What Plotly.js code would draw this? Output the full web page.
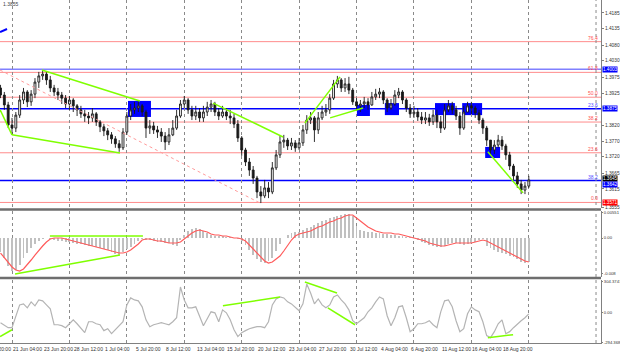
<!DOCTYPE html>
<html><head><meta charset="utf-8">
<script src="https://cdn.plot.ly/plotly-3.0.1.min.js"></script>
<style>html,body{margin:0;padding:0;background:#fff}#chart{width:620px;height:357px}</style>
</head><body><div id="chart"></div>
<script>
// ---------- DATA (8-hour bars, index 0 = left edge) ----------
const firstOpen = 1.3942;
const closes = [1.3919,1.3887,1.3822,1.3812,1.3854,1.3903,1.3929,1.3897,1.3922,1.3961,
 1.3981,1.3987,1.3968,1.3942,1.3929,1.3919,1.3909,1.3890,1.3903,1.3884,
 1.3871,1.3858,1.3851,1.3845,1.3858,1.3832,1.3816,1.3803,1.3790,1.3777,
 1.3761,1.3748,1.3799,1.3851,1.3871,1.3877,1.3884,1.3864,1.3812,1.3819,
 1.3806,1.3799,1.3786,1.3767,1.3790,1.3812,1.3851,1.3890,1.3903,1.3871,
 1.3851,1.3864,1.3845,1.3864,1.3880,1.3890,1.3864,1.3851,1.3864,1.3851,
 1.3845,1.3825,1.3780,1.3741,1.3702,1.3676,1.3650,1.3605,1.3592,1.3618,
 1.3605,1.3683,1.3725,1.3767,1.3773,1.3754,1.3764,1.3748,1.3764,1.3806,
 1.3838,1.3845,1.3806,1.3845,1.3864,1.3871,1.3909,1.3955,1.3968,1.3942,
 1.3955,1.3935,1.3897,1.3884,1.3890,1.3897,1.3887,1.3913,1.3922,1.3929,
 1.3903,1.3877,1.3890,1.3919,1.3929,1.3903,1.3877,1.3858,1.3864,1.3848,
 1.3838,1.3845,1.3832,1.3854,1.3832,1.3812,1.3871,1.3884,1.3871,1.3851,
 1.3812,1.3864,1.3884,1.3877,1.3861,1.3838,1.3812,1.3773,1.3741,1.3757,
 1.3773,1.3754,1.3725,1.3689,1.3657,1.3631,1.3611,1.3624,1.3644];
const highs = [1.3952,1.3929,1.3897,1.3845,1.3864,1.3919,1.3942,1.3935,1.3935,1.3974,
 1.3994,1.4000,1.3994,1.3981,1.3952,1.3942,1.3929,1.3919,1.3916,1.3909,
 1.3890,1.3884,1.3871,1.3864,1.3877,1.3864,1.3838,1.3825,1.3812,1.3799,
 1.3786,1.3773,1.3812,1.3864,1.3890,1.3897,1.3903,1.3890,1.3871,1.3838,
 1.3832,1.3819,1.3812,1.3799,1.3812,1.3838,1.3871,1.3903,1.3916,1.3909,
 1.3884,1.3884,1.3877,1.3884,1.3897,1.3903,1.3897,1.3877,1.3884,1.3877,
 1.3871,1.3858,1.3838,1.3786,1.3748,1.3715,1.3689,1.3657,1.3624,1.3644,
 1.3637,1.3702,1.3741,1.3786,1.3790,1.3780,1.3780,1.3773,1.3780,1.3822,
 1.3854,1.3864,1.3851,1.3864,1.3884,1.3890,1.3922,1.3968,1.3981,1.3974,
 1.3974,1.3978,1.3942,1.3909,1.3903,1.3913,1.3909,1.3929,1.3939,1.3942,
 1.3935,1.3909,1.3906,1.3935,1.3942,1.3935,1.3909,1.3890,1.3884,1.3877,
 1.3864,1.3864,1.3858,1.3871,1.3871,1.3851,1.3890,1.3903,1.3897,1.3884,
 1.3864,1.3884,1.3897,1.3897,1.3884,1.3871,1.3845,1.3819,1.3773,1.3773,
 1.3790,1.3786,1.3761,1.3735,1.3696,1.3670,1.3644,1.3637,1.3657];
const lows = [1.3909,1.3871,1.3812,1.3790,1.3799,1.3845,1.3890,1.3880,1.3884,1.3909,
 1.3942,1.3968,1.3952,1.3929,1.3916,1.3903,1.3890,1.3877,1.3871,1.3864,
 1.3851,1.3845,1.3832,1.3825,1.3832,1.3819,1.3799,1.3786,1.3773,1.3761,
 1.3748,1.3735,1.3741,1.3790,1.3838,1.3858,1.3864,1.3851,1.3780,1.3793,
 1.3793,1.3780,1.3767,1.3741,1.3757,1.3786,1.3806,1.3845,1.3877,1.3858,
 1.3838,1.3838,1.3832,1.3832,1.3851,1.3864,1.3851,1.3838,1.3845,1.3838,
 1.3825,1.3812,1.3767,1.3722,1.3689,1.3657,1.3631,1.3585,1.3569,1.3585,
 1.3585,1.3598,1.3676,1.3715,1.3748,1.3741,1.3741,1.3735,1.3741,1.3754,
 1.3793,1.3825,1.3767,1.3793,1.3838,1.3851,1.3858,1.3903,1.3942,1.3929,
 1.3929,1.3922,1.3887,1.3871,1.3864,1.3877,1.3871,1.3884,1.3903,1.3909,
 1.3890,1.3864,1.3871,1.3884,1.3909,1.3890,1.3864,1.3845,1.3845,1.3835,
 1.3825,1.3825,1.3819,1.3822,1.3812,1.3796,1.3806,1.3864,1.3858,1.3838,
 1.3790,1.3806,1.3864,1.3858,1.3845,1.3825,1.3793,1.3754,1.3728,1.3728,
 1.3748,1.3741,1.3709,1.3676,1.3644,1.3618,1.3598,1.3598,1.3618];

const macdHist = [-0.00308,-0.00440,-0.00616,-0.00726,-0.00704,-0.00594,-0.00440,-0.00330,-0.00220,-0.00132,
 -0.00066,-0.00022,0,-0.00022,-0.00044,-0.00066,-0.00066,-0.00088,-0.00088,-0.00110,
 -0.00132,-0.00132,-0.00154,-0.00176,-0.00176,-0.00198,-0.00220,-0.00242,-0.00264,-0.00308,
 -0.00352,-0.00374,-0.00308,-0.00242,-0.00198,-0.00132,-0.00066,-0.00022,-0.00044,-0.00044,
 -0.00066,-0.00088,-0.00088,-0.00110,-0.00110,-0.00154,-0.00176,-0.00044,0.00066,0.00154,
 0.00198,0.00220,0.00198,0.00154,0.00110,0.00066,0.00044,0.00044,0.00044,0.00022,
 0.00022,0,-0.00022,-0.00066,-0.00154,-0.00264,-0.00374,-0.00462,-0.00528,-0.00550,
 -0.00506,-0.00440,-0.00286,-0.00132,0,0.00066,0.00110,0.00132,0.00132,0.00176,
 0.00220,0.00242,0.00286,0.00330,0.00374,0.00396,0.00440,0.00462,0.00484,0.00506,
 0.00528,0.00528,0.00484,0.00264,0.00176,0.00154,0.00132,0.00132,0.00110,0.00110,
 0.00088,0.00088,0.00066,0.00066,0.00044,0.00044,0.00022,0.00022,0,-0.00044,
 -0.00088,-0.00110,-0.00154,-0.00176,-0.00198,-0.00198,-0.00176,-0.00132,-0.00110,-0.00110,
 -0.00132,-0.00154,-0.00132,-0.00110,-0.00088,-0.00044,-0.00022,-0.00176,-0.00220,-0.00264,
 -0.00308,-0.00330,-0.00352,-0.00396,-0.00418,-0.00462,-0.00528,-0.00550,-0.00528];
const macdSignal = [-0.00330,-0.00440,-0.00550,-0.00638,-0.00704,-0.00726,-0.00682,-0.00594,-0.00484,-0.00374,
 -0.00264,-0.00176,-0.00088,-0.00022,0,0,0,-0.00022,-0.00044,-0.00066,
 -0.00088,-0.00110,-0.00132,-0.00154,-0.00176,-0.00198,-0.00220,-0.00242,-0.00264,-0.00286,
 -0.00308,-0.00330,-0.00330,-0.00308,-0.00264,-0.00198,-0.00132,-0.00044,-0.00022,-0.00022,
 -0.00044,-0.00066,-0.00066,-0.00088,-0.00110,-0.00110,-0.00110,-0.00088,-0.00022,0.00044,
 0.00110,0.00154,0.00176,0.00154,0.00132,0.00088,0.00066,0.00066,0.00044,0.00044,
 0.00022,0,0,-0.00022,-0.00066,-0.00154,-0.00264,-0.00352,-0.00440,-0.00506,
 -0.00550,-0.00528,-0.00462,-0.00396,-0.00286,-0.00154,-0.00044,0.00044,0.00088,0.00110,
 0.00132,0.00154,0.00198,0.00242,0.00264,0.00308,0.00352,0.00374,0.00418,0.00440,
 0.00484,0.00506,0.00506,0.00440,0.00374,0.00308,0.00242,0.00198,0.00154,0.00132,
 0.00110,0.00110,0.00110,0.00088,0.00088,0.00066,0.00044,0.00022,0,-0.00022,
 -0.00044,-0.00066,-0.00110,-0.00132,-0.00154,-0.00176,-0.00176,-0.00154,-0.00132,-0.00110,
 -0.00110,-0.00110,-0.00110,-0.00110,-0.00088,-0.00066,-0.00044,-0.00066,-0.00110,-0.00154,
 -0.00198,-0.00242,-0.00286,-0.00330,-0.00374,-0.00418,-0.00462,-0.00506,-0.00528];
const cci = [-98,-127,-147,-147,-29,78,88,49,108,69,
 127,118,78,39,-118,-118,-127,-147,-108,-69,
 -108,-147,-196,-88,-88,-108,-118,-176,-157,-206,
 -167,-127,-88,78,147,127,118,59,-69,-137,
 -118,-108,-98,-108,-118,-88,-49,255,127,49,
 49,59,-29,-127,-59,10,0,-88,29,0,
 -69,-167,-235,-196,-176,-157,-147,-137,-137,-147,
 -88,78,137,157,147,108,88,49,20,88,
 284,196,88,137,78,49,78,157,176,127,
 88,29,-78,-108,-78,-49,10,49,108,157,
 137,-29,-127,-49,59,69,-49,-186,-157,-108,
 -108,-98,-78,-118,-147,10,118,127,59,-78,
 -186,-157,-10,59,29,10,-88,-225,-245,-186,
 -108,-69,-206,-186,-147,-108,-78,-49,-10];

const xLabelBars = [-5,3,11,19,27,35,43,51,59,67,75,83,91,99,107,115,123,131];
const xLabelText = ["18 Jun 20:00","21 Jun 04:00","23 Jun 20:00","28 Jun 12:00","1 Jul 04:00","5 Jul 20:00",
 "8 Jul 12:00","13 Jul 04:00","15 Jul 20:00","20 Jul 12:00","23 Jul 04:00","27 Jul 20:00","30 Jul 12:00",
 "4 Aug 04:00","6 Aug 20:00","11 Aug 12:00","16 Aug 04:00","18 Aug 20:00"];
const priceTicks = [1.4185,1.4135,1.4080,1.4030,1.3975,1.3925,1.3820,1.3770,1.3720,1.3665,1.3615,1.3555];
const macdTicks = [0.00551, 0, -0.0079];
const macdTickText = ["0.00551","0.00","-0.008"];
const cciTicks = [304.3747, 0, -294.368];
const cciTickText = ["304.3747","0.00","-294.368"];

const fibLevels = [0, 23.6, 38.2, 50.0, 61.8, 76.4];
const fibLow = 1.3571, fibHigh = 1.4253;
const blueLevels = [1.4003, 1.3875, 1.3642];
const blueLevelTags = ["", "23.6", "38.2"];
const priceBoxValues = [1.4003, 1.3875, 1.3645, 1.3642, 1.3571];
const priceBoxText = ["1.4003","1.3875","1.3645","1.3642","1.3571"];

// analyst drawings (bar index, price)
const trendX0 = [-0.1, 10.8, 3, 55.5, 79.5, 86.1, 127.3];
const trendP0 = [1.3871, 1.4000, 1.3790, 1.3893, 1.3828, 1.3845, 1.3735];
const trendX1 = [3, 36.4, 31.2, 73.8, 88.7, 94.7, 136.5];
const trendP1 = [1.3790, 1.3900, 1.3731, 1.3783, 1.3978, 1.3877, 1.3602];
const dottedX = [-0.13, 67.8], dottedP = [1.4000, 1.3569];
const channelX = [-0.13, 1.7], channelP = [1.4123, 1.4133];
const boxX0 = [33.3, 93.1, 100.4, 113.5, 120.6, 126.6];
const boxX1 = [39.3, 96.5, 104.1, 118.7, 125.8, 130.5];
const boxTop = [1.3900, 1.3887, 1.3893, 1.3893, 1.3893, 1.3751];
const boxBottom = [1.3848, 1.3851, 1.3854, 1.3854, 1.3854, 1.3715];
const macdTrendX0 = [12.9, 3.8], macdTrendV0 = [0.00044, -0.00792];
const macdTrendX1 = [37.2, 31.2], macdTrendV1 = [0.00044, -0.00374];
const cciTrendX0 = [-0.1, 58.1, 79.5, 85.5, 127.3], cciTrendV0 = [-235, 69, 304, 49, -245];
const cciTrendX1 = [3, 73, 87.9, 92.6, 133.9], cciTrendV1 = [-167, 157, 196, -118, -216];

// ---------- CHART ----------
const bars = closes.map((_, i) => i);
const opens = closes.map((c, i) => i === 0 ? firstOpen : closes[i - 1]);
const xRange = [-0.135, 156.86];
const GREEN = '#7fff00';
const FONT = 'Liberation Sans, Arial, sans-serif';
const gridBars = [];
for (let b = 3; b <= 138; b += 15) gridBars.push(b);

const traces = [];
traces.push({type:'candlestick', x:bars, open:opens, high:highs, low:lows, close:closes,
  xaxis:'x', yaxis:'y', whiskerwidth:0, hoverinfo:'skip',
  increasing:{line:{color:'#1a1a1a', width:0.9}, fillcolor:'#ffffff'},
  decreasing:{line:{color:'#1a1a1a', width:0.9}, fillcolor:'#1a1a1a'}});
traces.push({type:'scatter', mode:'lines', x:dottedX, y:dottedP, xaxis:'x', yaxis:'y',
  line:{color:'#ff9c9c', width:1, dash:'dot'}});
traces.push({type:'scatter', mode:'lines', x:channelX, y:channelP, xaxis:'x', yaxis:'y',
  line:{color:'#0000ff', width:2}});
trendX0.forEach((x0, i) => traces.push({type:'scatter', mode:'lines', x:[x0, trendX1[i]],
  y:[trendP0[i], trendP1[i]], xaxis:'x', yaxis:'y', line:{color:GREEN, width:1.5}}));

traces.push({type:'bar', x:bars, y:macdHist, xaxis:'x', yaxis:'y2', width:0.5,
  marker:{color:'#c0c0c0', line:{width:0}}});
traces.push({type:'scatter', mode:'lines', x:bars, y:macdSignal, xaxis:'x', yaxis:'y2',
  line:{color:'#ff5a5a', width:1.2}});
macdTrendX0.forEach((x0, i) => traces.push({type:'scatter', mode:'lines', x:[x0, macdTrendX1[i]],
  y:[macdTrendV0[i], macdTrendV1[i]], xaxis:'x', yaxis:'y2', line:{color:GREEN, width:1.5}}));

traces.push({type:'scatter', mode:'lines', x:bars, y:cci, xaxis:'x', yaxis:'y3',
  line:{color:'#b4b4b4', width:1.2}});
cciTrendX0.forEach((x0, i) => traces.push({type:'scatter', mode:'lines', x:[x0, cciTrendX1[i]],
  y:[cciTrendV0[i], cciTrendV1[i]], xaxis:'x', yaxis:'y3', line:{color:GREEN, width:1.5}}));

const shapes = [];
const annotations = [];
fibLevels.forEach(l => {
  const p = fibLow + (fibHigh - fibLow) * l / 100;
  shapes.push({type:'line', xref:'paper', x0:0, x1:1, yref:'y', y0:p, y1:p, layer:'below',
    line:{color:'#ff8c8c', width:1}});
  annotations.push({xref:'paper', x:0.996, xanchor:'right', yref:'y', y:p, yanchor:'bottom',
    text:l.toFixed(1), showarrow:false, font:{family:FONT, size:5, color:'#ff5050'}, borderpad:0});
});
blueLevels.forEach((p, i) => {
  shapes.push({type:'line', xref:'paper', x0:0, x1:1, yref:'y', y0:p, y1:p, layer:'below',
    line:{color: i === 0 ? '#8080ff' : '#0000ff', width:1.5}});
  if (blueLevelTags[i]) annotations.push({xref:'paper', x:0.996, xanchor:'right', yref:'y', y:p,
    yanchor:'bottom', text:blueLevelTags[i], showarrow:false, borderpad:0,
    font:{family:FONT, size:5, color:'#5050ff'}});
});
boxX0.forEach((x0, i) => shapes.push({type:'rect', xref:'x', yref:'y', x0:x0, x1:boxX1[i],
  y0:boxBottom[i], y1:boxTop[i], layer:'below', fillcolor:'#0000ff', line:{width:0}}));

// panel separators and right dashed marker
[0.3892, 0.1895].forEach(py => shapes.push({type:'line', xref:'paper', x0:0, x1:1, yref:'paper',
  y0:py, y1:py, line:{color:'#6e6e6e', width:2.5}}));
shapes.push({type:'line', xref:'x', x0:155.56, x1:155.56, yref:'paper', y0:0, y1:1,
  line:{color:'#8a8a8a', width:1, dash:'dot'}});

const boxColors = ['#0000ff','#0000ff','#000000','#0000ff','#ff0000'];
const boxShift = [0, 0, 1.5, -3.5, 0];
priceBoxValues.forEach((p, i) => annotations.push({xref:'paper', x:1, xanchor:'left', xshift:1,
  yref:'y', y:p, yanchor:'middle', yshift:boxShift[i], text:priceBoxText[i], showarrow:false,
  bgcolor:boxColors[i], borderpad:0, font:{family:FONT, size:4.6, color:'#ffffff'}}));

xLabelBars.forEach((b, i) => annotations.push({xref:'x domain',
  x:(b - xRange[0]) / (xRange[1] - xRange[0]), xanchor:'left', yref:'paper', y:0, yanchor:'top',
  yshift:-2, text:xLabelText[i], showarrow:false, borderpad:0,
  font:{family:FONT, size:5, color:'#333333'}}));
annotations.push({xref:'paper', x:0.003, xanchor:'left', yref:'paper', y:1, yanchor:'top',
  text:'1.3855', showarrow:false, borderpad:0, font:{family:FONT, size:5, color:'#444444'}});

const yCommon = {side:'right', anchor:'x', showgrid:false, zeroline:false, showline:true,
  linecolor:'#808080', linewidth:1, ticks:'outside', ticklen:2, tickcolor:'#808080',
  tickmode:'array', tickfont:{family:FONT, size:4.8, color:'#333333'}, fixedrange:true};
const smallTickFont = {family:FONT, size:4.2, color:'#333333'};

const layout = {
  width:620, height:357, margin:{l:0, r:19, t:0, b:14},
  paper_bgcolor:'#ffffff', plot_bgcolor:'#ffffff', showlegend:false, hovermode:false,
  dragmode:false, bargap:0,
  xaxis:{range:xRange, anchor:'y3', showticklabels:false, tickmode:'array', tickvals:gridBars,
    ticks:'', showgrid:true, gridcolor:'#8a8a8a', griddash:'dot', gridwidth:1, zeroline:false,
    showline:true, linecolor:'#808080', linewidth:1, rangeslider:{visible:false}, fixedrange:true},
  yaxis:Object.assign({}, yCommon, {domain:[0.3936, 1], range:[1.3553, 1.4227],
    tickvals:priceTicks, ticktext:priceTicks.map(v => v.toFixed(4))}),
  yaxis2:Object.assign({}, yCommon, {domain:[0.1924, 0.3848], range:[-0.00858, 0.00594],
    tickvals:macdTicks, ticktext:macdTickText, tickfont:smallTickFont, ticklen:1}),
  yaxis3:Object.assign({}, yCommon, {domain:[0, 0.1837], range:[-298, 324],
    tickvals:cciTicks, ticktext:cciTickText, tickfont:smallTickFont, ticklen:1}),
  shapes:shapes, annotations:annotations
};

Plotly.newPlot('chart', traces, layout, {staticPlot:true, displayModeBar:false});
</script>
</body></html>
